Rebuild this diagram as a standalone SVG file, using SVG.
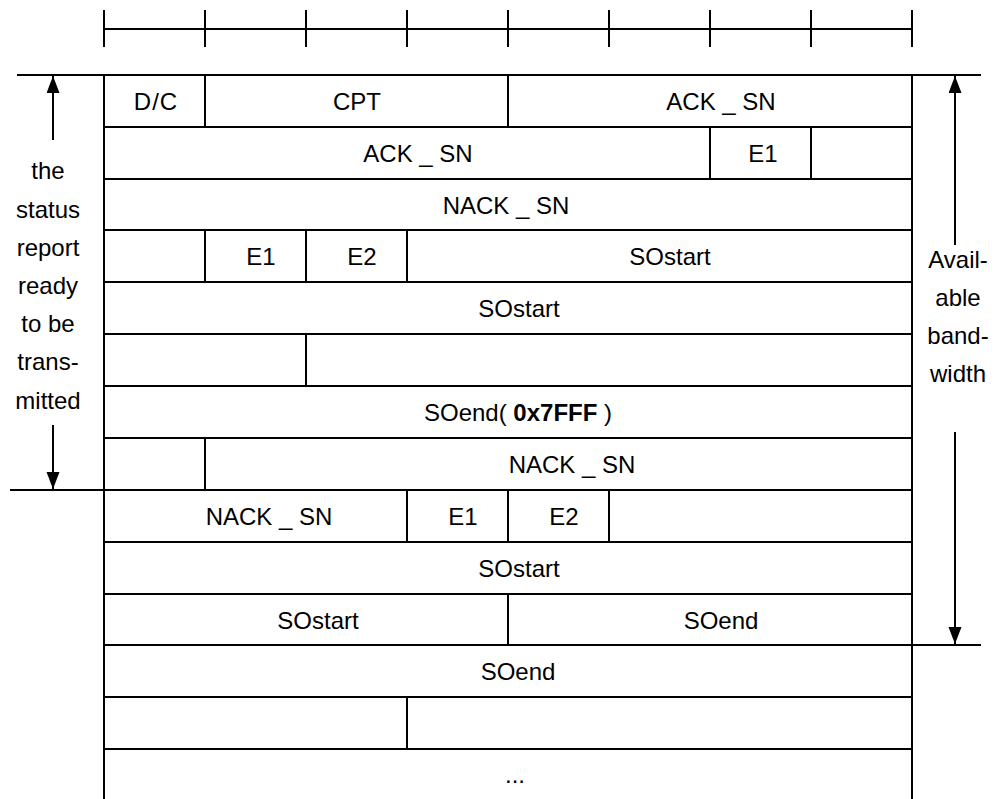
<svg xmlns="http://www.w3.org/2000/svg" width="998" height="799" viewBox="0 0 998 799">
<style>
line{stroke:#000;stroke-width:2;fill:none}
text{font-family:"Liberation Sans",Arial,sans-serif;font-size:24px;fill:#000;text-anchor:middle}
.b{font-weight:bold}
</style>
<defs>
<marker id="ah" markerUnits="userSpaceOnUse" markerWidth="17" markerHeight="14" refX="17" refY="6.5" orient="auto">
<path d="M0,0 L17,6.5 L0,13 Z" fill="#000"/>
</marker>
</defs>
<rect width="998" height="799" fill="#fff"/>
<g id="ruler">
<line x1="104" y1="29" x2="912" y2="29"/>
<line x1="104" y1="10" x2="104" y2="47"/>
<line x1="205" y1="10" x2="205" y2="47"/>
<line x1="306" y1="10" x2="306" y2="47"/>
<line x1="407" y1="10" x2="407" y2="47"/>
<line x1="508" y1="10" x2="508" y2="47"/>
<line x1="609" y1="10" x2="609" y2="47"/>
<line x1="710" y1="10" x2="710" y2="47"/>
<line x1="811" y1="10" x2="811" y2="47"/>
<line x1="912" y1="10" x2="912" y2="47"/>
</g>
<g id="grid">
<line x1="17" y1="75" x2="981" y2="75"/>
<line x1="104" y1="75" x2="104" y2="799"/>
<line x1="912" y1="75" x2="912" y2="799"/>
<line x1="104" y1="127" x2="912" y2="127"/>
<line x1="104" y1="179" x2="912" y2="179"/>
<line x1="104" y1="230" x2="912" y2="230"/>
<line x1="104" y1="282" x2="912" y2="282"/>
<line x1="104" y1="334" x2="912" y2="334"/>
<line x1="104" y1="386" x2="912" y2="386"/>
<line x1="104" y1="438" x2="912" y2="438"/>
<line x1="10" y1="490" x2="912" y2="490"/>
<line x1="104" y1="542" x2="912" y2="542"/>
<line x1="104" y1="594" x2="912" y2="594"/>
<line x1="104" y1="645" x2="981" y2="645"/>
<line x1="104" y1="697" x2="912" y2="697"/>
<line x1="104" y1="749" x2="912" y2="749"/>
<line x1="205" y1="75" x2="205" y2="127"/>
<line x1="508" y1="75" x2="508" y2="127"/>
<line x1="710" y1="127" x2="710" y2="179"/>
<line x1="811" y1="127" x2="811" y2="179"/>
<line x1="205" y1="230" x2="205" y2="282"/>
<line x1="306" y1="230" x2="306" y2="282"/>
<line x1="407" y1="230" x2="407" y2="282"/>
<line x1="306" y1="334" x2="306" y2="386"/>
<line x1="205" y1="438" x2="205" y2="490"/>
<line x1="407" y1="490" x2="407" y2="542"/>
<line x1="508" y1="490" x2="508" y2="542"/>
<line x1="609" y1="490" x2="609" y2="542"/>
<line x1="508" y1="594" x2="508" y2="645"/>
<line x1="407" y1="697" x2="407" y2="749"/>
</g>
<g id="fields">
<text x="156" y="110" letter-spacing="1">D/C</text>
<text x="357" y="110">CPT</text>
<text x="721" y="110">ACK _ SN</text>
<text x="418" y="162">ACK _ SN</text>
<text x="763" y="162">E1</text>
<text x="506" y="214">NACK _ SN</text>
<text x="261" y="265">E1</text>
<text x="362" y="265">E2</text>
<text x="670" y="265">SOstart</text>
<text x="519" y="317">SOstart</text>
<text x="518" y="421">SOend( <tspan class="b">0x7FFF</tspan> )</text>
<text x="572" y="473">NACK _ SN</text>
<text x="269" y="525">NACK _ SN</text>
<text x="463" y="525">E1</text>
<text x="564" y="525">E2</text>
<text x="519" y="577">SOstart</text>
<text x="318" y="629">SOstart</text>
<text x="721" y="629">SOend</text>
<text x="518" y="680">SOend</text>
<text x="515" y="783">...</text>
</g>
<g id="left-label">
<text x="48" y="179">the</text>
<text x="48" y="218">status</text>
<text x="48" y="256">report</text>
<text x="48" y="294">ready</text>
<text x="48" y="332">to be</text>
<text x="48" y="370">trans-</text>
<text x="48" y="409">mitted</text>
</g>
<g id="right-label">
<text x="958" y="268">Avail-</text>
<text x="958" y="306">able</text>
<text x="958" y="344">band-</text>
<text x="958" y="382">width</text>
</g>
<g id="connectors">
<line x1="53" y1="140" x2="53" y2="76" marker-end="url(#ah)"/>
<line x1="53" y1="425" x2="53" y2="489" marker-end="url(#ah)"/>
<line x1="955" y1="245" x2="955" y2="76" marker-end="url(#ah)"/>
<line x1="955" y1="432" x2="955" y2="644" marker-end="url(#ah)"/>
</g>
</svg>
